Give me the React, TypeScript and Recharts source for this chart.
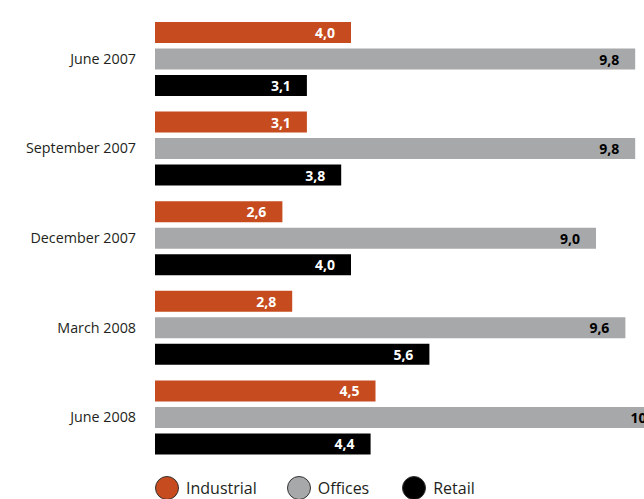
import React from 'react';
import { BarChart, Bar, XAxis, YAxis, LabelList } from 'recharts';

const categories = ['June 2007', 'September 2007', 'December 2007', 'March 2008', 'June 2008'];
const industrial = [4.0, 3.1, 2.6, 2.8, 4.5];
const offices = [9.8, 9.8, 9.0, 9.6, 10.6];
const retail = [3.1, 3.8, 4.0, 5.6, 4.4];

const seriesNames = ['Industrial', 'Offices', 'Retail'];
const seriesColors = ['#C64B1E', '#A7A8AA', '#000000'];
const labelColors = ['#FFFFFF', '#000000', '#FFFFFF'];

const data = categories.map((c, i) => ({
  name: c,
  Industrial: industrial[i],
  Offices: offices[i],
  Retail: retail[i],
}));

const FONT = '"Open Sans", "Noto Sans", sans-serif';

const makeLabel = (color: string) => (props: any) => {
  const { x, y, width, height, value } = props;
  return (
    <text
      x={x + width - 16}
      y={y + height / 2}
      textAnchor="end"
      dominantBaseline="central"
      fill={color}
      fontFamily={FONT}
      fontWeight={700}
      fontSize={14}
    >
      {Number(value).toFixed(1).replace('.', ',')}
    </text>
  );
};

export default function App() {
  return (
    <div style={{ position: 'absolute', left: 0, top: 0, width: 644, height: 499, overflow: 'hidden', background: '#fff' }}>
      <BarChart
        width={760}
        height={470}
        data={data}
        layout="vertical"
        margin={{ top: 14, right: 17, bottom: 8, left: 0 }}
        barSize={21}
        barGap={5.5}
      >
        <XAxis type="number" domain={[0, 12]} hide />
        <YAxis
          type="category"
          dataKey="name"
          width={155}
          axisLine={false}
          tickLine={false}
          tickSize={0}
          tickMargin={19}
          tick={{ fill: '#231F20', fontSize: 14.3, fontFamily: FONT }}
        />
        {seriesNames.map((s, i) => (
          <Bar key={s} dataKey={s} fill={seriesColors[i]} isAnimationActive={false}>
            <LabelList dataKey={s} content={makeLabel(labelColors[i])} />
          </Bar>
        ))}
      </BarChart>
      <div style={{ position: 'absolute', left: 155, top: 476, display: 'flex', alignItems: 'center', fontFamily: FONT, fontSize: 16, color: '#231F20' }}>
        {seriesNames.map((s, i) => (
          <div key={s} style={{ display: 'flex', alignItems: 'center', marginRight: i === 0 ? 30 : 33 }}>
            <span style={{ display: 'inline-block', width: 22, height: 22, borderRadius: '50%', background: seriesColors[i], border: '1px solid #333', marginRight: 7 }} />
            <span style={{ lineHeight: '24px' }}>{s}</span>
          </div>
        ))}
      </div>
    </div>
  );
}
